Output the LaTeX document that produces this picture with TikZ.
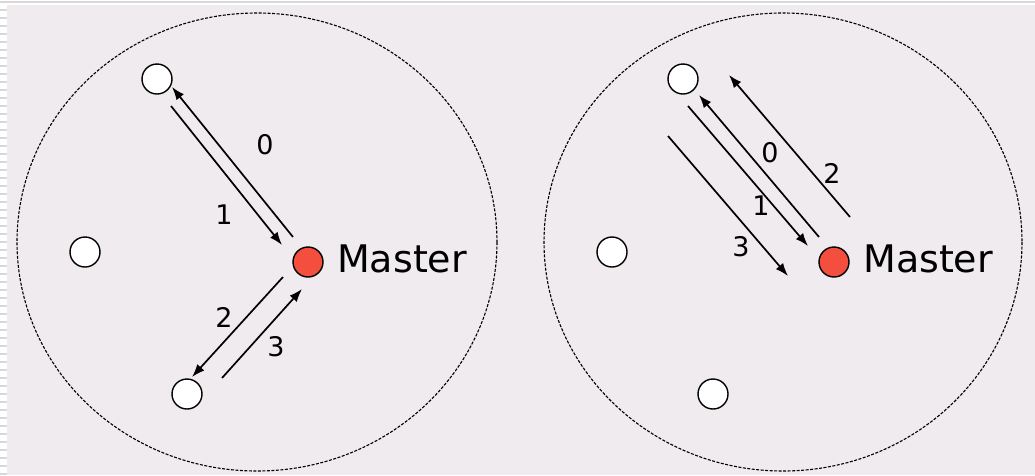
\documentclass[tikz,border=0pt]{standalone}
\usepackage{fontspec}
\setmainfont{DejaVu Sans}
\usetikzlibrary{arrows.meta}
\definecolor{panel}{HTML}{EFEBEE}
\definecolor{masterred}{HTML}{F44E3E}
\definecolor{edge}{HTML}{D8D8D8}
\tikzset{
  host/.style={circle, draw=black, line width=1.4pt, fill=white, minimum size=30pt, inner sep=0pt},
  master/.style={host, fill=masterred},
  msg/.style={line width=1.7pt, -{Latex[length=13pt,width=9.5pt]}},
  lbl/.style={font=\fontsize{27}{28}\selectfont, inner sep=0pt},
  mlbl/.style={font=\fontsize{38}{40}\selectfont, inner sep=0pt, anchor=base west},
  cloud/.style={draw=black, line width=1.1pt, dash pattern=on 3pt off 1.5pt}
}
\begin{document}
\begin{tikzpicture}[x=1pt,y=-1pt]
\useasboundingbox (0,0) rectangle (1035,475);
\fill[white] (0,0) rectangle (1035,475);
\draw[edge, line width=1.5pt] (0,2) -- (1035,2);
\foreach \yy in {10,18,...,474} \draw[edge, line width=1.2pt] (0,\yy) -- (7,\yy);
\fill[panel] (7,5) rectangle (1035,475);

% ---------- left panel ----------
\draw[cloud] (257,242) ellipse [x radius=240, y radius=229];
\node[host] (L1) at (157,79) {};
\node[host] (L2) at (85,252) {};
\node[host] (L3) at (187,394) {};
\node[master] (LM) at (308,262) {};
\node[mlbl] (LMt) at (337,272) {Master};

\coordinate (l0s) at (293,237); \coordinate (l0e) at (172,87);
\coordinate (l1s) at (171,106); \coordinate (l1e) at (282,245);
\coordinate (l2s) at (283,277); \coordinate (l2e) at (192,377);
\coordinate (l3s) at (222,378); \coordinate (l3e) at (302,289);
\draw[msg] (l0s) -- (l0e);
\draw[msg] (l1s) -- (l1e);
\draw[msg] (l2s) -- (l2e);
\draw[msg] (l3s) -- (l3e);
\node[lbl] (lt0) at (265,145) {0};
\node[lbl] (lt1) at (224,215) {1};
\node[lbl] (lt2) at (224,317) {2};
\node[lbl] (lt3) at (276,347) {3};

% ---------- right panel ----------
\draw[cloud] (783,242) ellipse [x radius=239, y radius=229];
\node[host] (R1) at (683,79) {};
\node[host] (R2) at (612,252) {};
\node[host] (R3) at (713,394) {};
\node[master] (RM) at (834,262) {};
\node[mlbl] (RMt) at (863,272) {Master};

\coordinate (r0s) at (819,237); \coordinate (r0e) at (699,95);
\coordinate (r2s) at (850,217); \coordinate (r2e) at (729,75);
\coordinate (r1s) at (688,106); \coordinate (r1e) at (808,246);
\coordinate (r3s) at (668,136); \coordinate (r3e) at (788,276);
\draw[msg] (r0s) -- (r0e);
\draw[msg] (r2s) -- (r2e);
\draw[msg] (r1s) -- (r1e);
\draw[msg] (r3s) -- (r3e);
\node[lbl] (rt0) at (770,153) {0};
\node[lbl] (rt2) at (832,173) {2};
\node[lbl] (rt1) at (761,206) {1};
\node[lbl] (rt3) at (741,247) {3};
\end{tikzpicture}
\end{document}
